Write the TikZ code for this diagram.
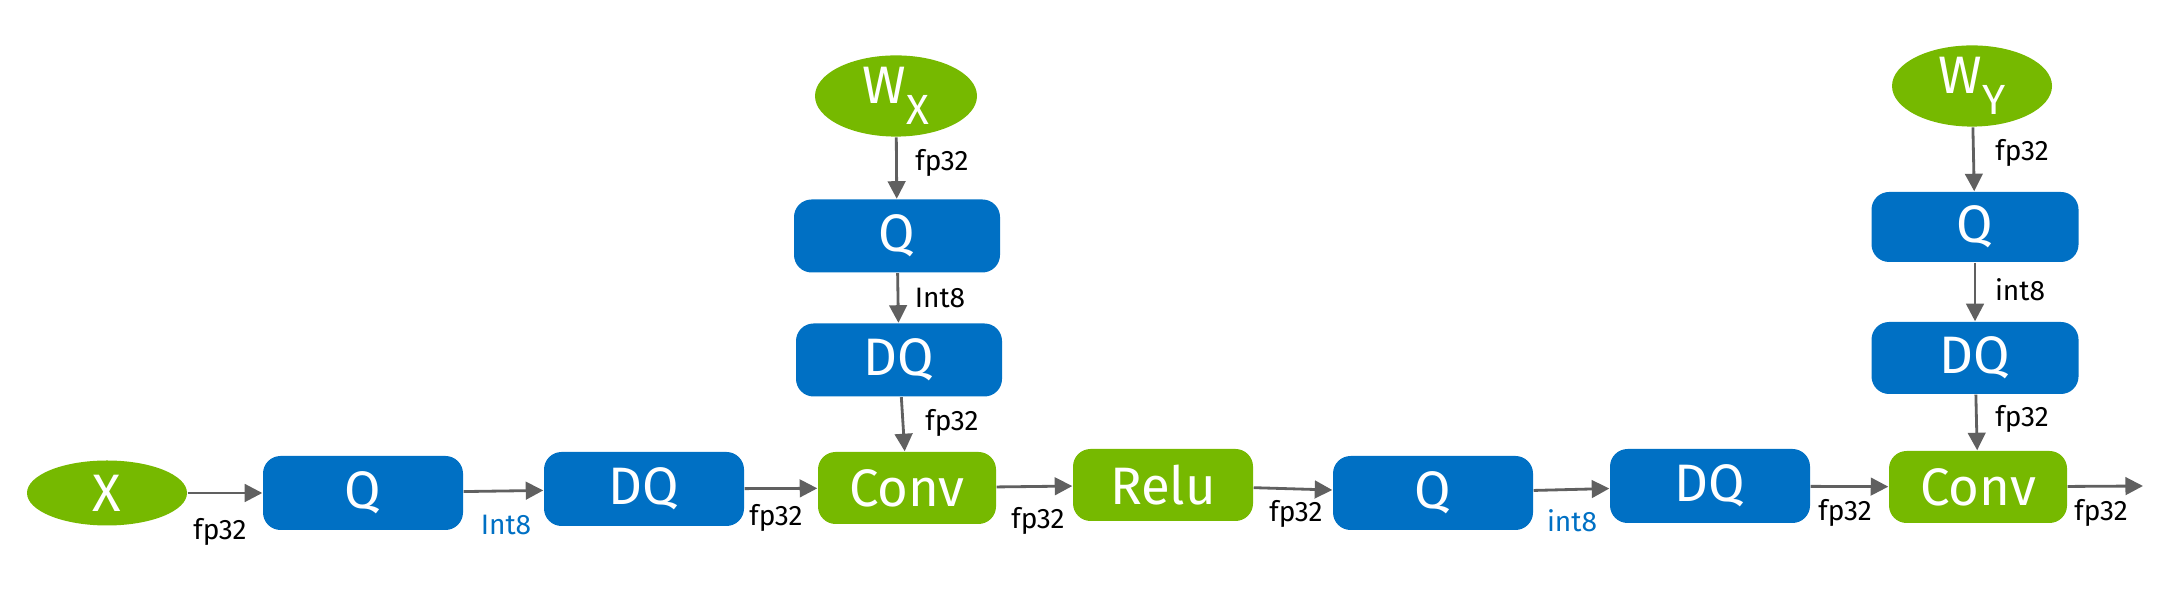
\documentclass[tikz,border=0pt]{standalone}
\usepackage{fontspec}
\setmainfont{Fira Sans}
\usetikzlibrary{arrows.meta,shapes.geometric}
\definecolor{nvgreen}{RGB}{118,185,0}
\definecolor{qblue}{RGB}{0,112,196}
\definecolor{wiregray}{RGB}{96,96,96}
\newcommand{\subX}[2]{#1\raisebox{-0.4em}{\fontsize{12}{12}\selectfont #2}}
\begin{document}
\begin{tikzpicture}[>={Triangle[length=5pt,width=5pt]},
  opbox/.style={rectangle, rounded corners=5pt, fill=qblue, text=white, inner sep=0pt,
    minimum width=2cm, minimum height=0.74cm, font=\fontsize{15}{17}\selectfont},
  layerbox/.style={opbox, fill=nvgreen, minimum width=1.78cm, minimum height=0.72cm},
  tensor/.style={ellipse, fill=nvgreen, text=white, inner sep=0pt,
    minimum width=1.6cm, minimum height=0.65cm, font=\fontsize{15}{17}\selectfont},
  wire/.style={->, draw=wiregray, line width=0.8pt},
  dtype/.style={inner sep=0pt, font=\fontsize{8}{9}\selectfont},
  qtype/.style={dtype, text=qblue}]
  \useasboundingbox (0,0) rectangle (21.80,6.04);
  % main chain
  \node[tensor] (X) at (1.07,1.11) {X};
  \node[opbox] (Q1) at (3.63,1.11) {Q};
  \node[opbox] (DQ1) at (6.44,1.15) {DQ};
  \node[layerbox] (Conv1) at (9.07,1.16) {Conv};
  \node[layerbox, minimum width=1.8cm] (Relu) at (11.63,1.19) {Relu};
  \node[opbox] (Q2) at (14.33,1.11) {Q};
  \node[opbox] (DQ2) at (17.10,1.18) {DQ};
  \node[layerbox] (Conv2) at (19.78,1.17) {Conv};
  \coordinate (out) at (21.43,1.18);
  % weight branches
  \node[tensor, minimum width=1.62cm] (Wx) at (8.96,5.08) {\subX{W}{X}};
  \node[opbox, minimum width=2.06cm, minimum height=0.73cm] (Qx) at (8.97,3.68) {Q};
  \node[opbox, minimum width=2.06cm, minimum height=0.73cm] (DQx) at (8.99,2.44) {DQ};
  \node[tensor, minimum height=0.7cm] (Wy) at (19.72,5.18) {\subX{W}{Y}};
  \node[opbox, minimum width=2.07cm, minimum height=0.7cm] (Qy) at (19.75,3.77) {Q};
  \node[opbox, minimum width=2.07cm, minimum height=0.72cm] (DQy) at (19.75,2.46) {DQ};
  % connectors
  \draw[wire] (X) -- (Q1);
  \draw[wire] (Q1) -- (DQ1);
  \draw[wire] (DQ1) -- (Conv1);
  \draw[wire] (Conv1) -- (Relu);
  \draw[wire] (Relu) -- (Q2);
  \draw[wire] (Q2) -- (DQ2);
  \draw[wire] (DQ2) -- (Conv2);
  \draw[wire] (Conv2) -- (out);
  \draw[wire] (Wx) -- (Qx);
  \draw[wire] (Qx) -- (DQx);
  \draw[wire] (DQx) -- (Conv1);
  \draw[wire] (Wy) -- (Qy);
  \draw[wire] (Qy) -- (DQy);
  \draw[wire] (DQy) -- (Conv2);
  % data types
  \node[dtype] (t1) at (2.20,0.72) {fp32};
  \node[qtype] (t2) at (5.06,0.79) {Int8};
  \node[dtype] (t3) at (7.76,0.86) {fp32};
  \node[dtype] (t4) at (10.38,0.83) {fp32};
  \node[dtype] (t5) at (12.96,0.90) {fp32};
  \node[qtype] (t6) at (15.72,0.83) {int8};
  \node[dtype] (t7) at (18.45,0.91) {fp32};
  \node[dtype] (t8) at (21.01,0.91) {fp32};
  \node[dtype] (t9) at (9.42,4.41) {fp32};
  \node[dtype] (t10) at (9.40,3.06) {Int8};
  \node[dtype] (t11) at (9.52,1.81) {fp32};
  \node[dtype] (t12) at (20.22,4.51) {fp32};
  \node[dtype] (t13) at (20.20,3.14) {int8};
  \node[dtype] (t14) at (20.22,1.85) {fp32};
\end{tikzpicture}
\end{document}
